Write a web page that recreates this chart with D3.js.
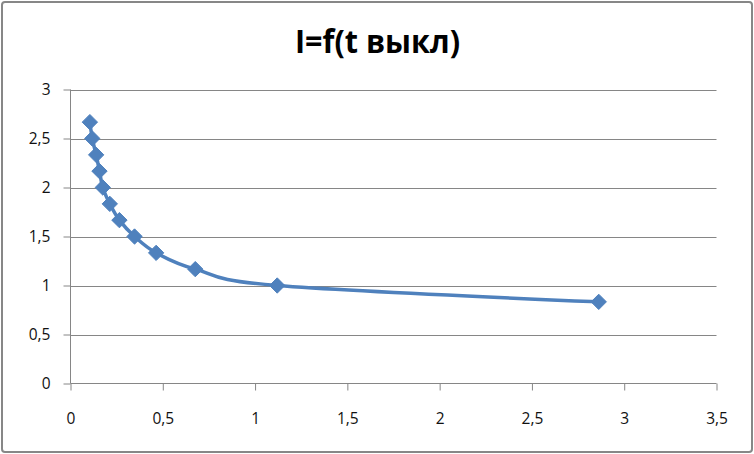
<!DOCTYPE html>
<html>
<head>
<meta charset="utf-8">
<script src="https://cdn.jsdelivr.net/npm/d3@7"></script>
<style>
  html, body { margin: 0; padding: 0; background: #fff; }
  svg { display: block; }
</style>
</head>
<body>
<script>
// ---- data ----
const title = "I=f(t выкл)";
const tValues = [0.105, 0.118, 0.139, 0.157, 0.175, 0.213, 0.265, 0.347, 0.464, 0.676, 1.12, 2.862];
const iValues = [2.667, 2.5, 2.333, 2.167, 2.0, 1.833, 1.667, 1.5, 1.333, 1.167, 1.0, 0.833];
const xTicks = [0, 0.5, 1, 1.5, 2, 2.5, 3, 3.5];
const yTicks = [0, 0.5, 1, 1.5, 2, 2.5, 3];

const W = 754, H = 454;
const color = "#4F81BD";
const grid = "#868686";
const fmt = v => String(v).replace(".", ",");

const svg = d3.select("body").append("svg").attr("width", W).attr("height", H);

// outer border
svg.append("rect")
  .attr("x", 2).attr("y", 2).attr("width", W - 4).attr("height", H - 4)
  .attr("rx", 3).attr("fill", "#fff").attr("stroke", "#878787").attr("stroke-width", 2);

const x = d3.scaleLinear().domain([0, 3.5]).range([70.5, 716.5]);
const y = d3.scaleLinear().domain([0, 3]).range([383.5, 89.5]);

// gridlines
svg.append("g").selectAll("line").data(yTicks.filter(d => d > 0)).join("line")
  .attr("x1", x(0)).attr("x2", x(3.5))
  .attr("y1", d => Math.round(y(d)) + 0.5).attr("y2", d => Math.round(y(d)) + 0.5)
  .attr("stroke", grid).attr("stroke-width", 1);

// axes
const yAxis = d3.axisLeft(y).tickValues(yTicks).tickSize(7).tickPadding(13).tickFormat(fmt);
const gy = svg.append("g").attr("transform", `translate(${x(0)},0)`).call(yAxis);
const xAxis = d3.axisBottom(x).tickValues(xTicks).tickSize(7).tickPadding(22).tickFormat(fmt);
const gx = svg.append("g").attr("transform", `translate(0,${y(0)})`).call(xAxis);
[gx, gy].forEach(g => {
  g.select(".domain").attr("stroke", grid).attr("stroke-width", 1);
  g.selectAll(".tick line").attr("stroke", grid).attr("stroke-width", 1);
  g.selectAll("text").attr("fill", "#111").style("font-family", "'Open Sans', sans-serif").style("font-size", "15.5px");
});
// remove the ends of the domain path (outer ticks)
gx.select(".domain").attr("d", `M${x(0)},0H${x(3.5)}`);
gy.select(".domain").attr("d", `M0,${y(0)}V${y(3)}`);

// data series
const pts = tValues.map((t, i) => [t, iValues[i]]);
const line = d3.line().x(d => x(d[0])).y(d => y(d[1])).curve(d3.curveCardinal.tension(0));
svg.append("path").datum(pts)
  .attr("d", line).attr("fill", "none").attr("stroke", color)
  .attr("stroke-width", 3.5).attr("stroke-linejoin", "round").attr("stroke-linecap", "round");

const sym = d3.symbol(d3.symbolDiamond2, 150);
svg.append("g").selectAll("path").data(pts).join("path")
  .attr("transform", d => `translate(${x(d[0])},${y(d[1])})`)
  .attr("d", sym).attr("fill", color).attr("stroke", color).attr("stroke-width", 1);

// title
svg.append("text")
  .attr("x", 377.5).attr("y", 52.5)
  .attr("text-anchor", "middle")
  .attr("textLength", 165).attr("lengthAdjust", "spacingAndGlyphs")
  .style("font-family", "'Open Sans', sans-serif").style("font-weight", "bold").style("font-size", "32.5px")
  .attr("fill", "#000")
  .text(title);
</script>
</body>
</html>
